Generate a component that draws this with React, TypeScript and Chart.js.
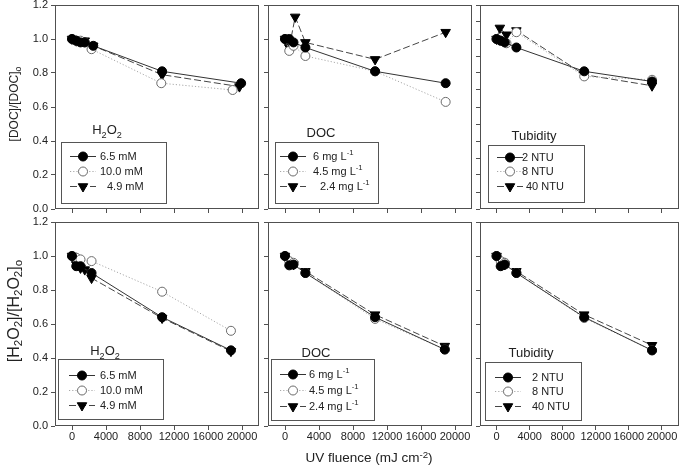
import React, { useEffect, useRef } from 'react';
import { Chart, registerables } from 'chart.js';
Chart.register(...registerables);

const FONT = 'Arial, "Liberation Sans", Helvetica, sans-serif';
const AXIS = '#505050';
const TEXT = '#222222';

// ---------------- Data ----------------
const X_TICKS = [0, 4000, 8000, 12000, 16000, 20000];
const Y_TICKS = [0, 0.2, 0.4, 0.6, 0.8, 1.0, 1.2];
const Y_TICKS_FINE = [0, 0.1, 0.2, 0.3, 0.4, 0.5, 0.6, 0.7, 0.8, 0.9, 1.0, 1.1, 1.2];

const H2O2_LABELS = ['6.5 mM', '10.0 mM', '4.9 mM'];
const DOC_LABELS = ['6 mg L^{-1}', '4.5 mg L^{-1}', '2.4 mg L^{-1}'];
const TURB_LABELS = ['2 NTU', '8 NTU', '40 NTU'];

// Top row: [DOC]/[DOC]o
const DOC_H2O2_65_X = [0, 500, 1000, 1500, 2500, 10600, 19900];
const DOC_H2O2_65_Y = [1.0, 0.99, 0.98, 0.98, 0.96, 0.81, 0.74];
const DOC_H2O2_100_X = [0, 500, 1000, 1500, 2300, 10500, 18900];
const DOC_H2O2_100_Y = [1.0, 0.99, 0.99, 0.98, 0.94, 0.74, 0.70];
const DOC_H2O2_49_X = [0, 500, 1000, 1500, 2500, 10600, 19700];
const DOC_H2O2_49_Y = [1.0, 0.99, 0.99, 0.99, 0.96, 0.79, 0.72];

const DOC_DOC_6_X = [0, 500, 1000, 2400, 10600, 18900];
const DOC_DOC_6_Y = [1.0, 1.0, 0.98, 0.95, 0.81, 0.74];
const DOC_DOC_45_X = [0, 500, 1000, 2400, 10600, 18900];
const DOC_DOC_45_Y = [1.0, 0.93, 0.96, 0.90, 0.81, 0.63];
const DOC_DOC_24_X = [0, 500, 1200, 2400, 10600, 18900];
const DOC_DOC_24_Y = [1.0, 0.95, 1.13, 0.98, 0.88, 1.04];

const DOC_TURB_2_X = [0, 500, 1000, 2400, 10600, 18800];
const DOC_TURB_2_Y = [1.0, 0.99, 0.98, 0.95, 0.81, 0.75];
const DOC_TURB_8_X = [0, 500, 1200, 2400, 10600, 18800];
const DOC_TURB_8_Y = [1.0, 0.99, 0.975, 1.04, 0.78, 0.76];
const DOC_TURB_40_X = [0, 400, 1200, 2400, 10600, 18800];
const DOC_TURB_40_Y = [1.0, 1.065, 1.025, 1.05, 0.79, 0.725];

// Bottom row: [H2O2]/[H2O2]o
const HP_H2O2_65_X = [0, 500, 1000, 2300, 10600, 18700];
const HP_H2O2_65_Y = [1.0, 0.94, 0.94, 0.90, 0.64, 0.445];
const HP_H2O2_100_X = [0, 500, 1000, 2300, 10600, 18700];
const HP_H2O2_100_Y = [1.0, 0.99, 0.98, 0.97, 0.79, 0.56];
const HP_H2O2_49_X = [0, 500, 1000, 1500, 2300, 10600, 18700];
const HP_H2O2_49_Y = [1.0, 0.95, 0.93, 0.92, 0.87, 0.635, 0.44];

const HP_DOC_6_X = [0, 500, 1000, 2400, 10600, 18800];
const HP_DOC_6_Y = [1.0, 0.945, 0.95, 0.90, 0.64, 0.45];
const HP_DOC_45_X = [0, 500, 1000, 2400, 10600, 18800];
const HP_DOC_45_Y = [1.0, 0.97, 0.96, 0.90, 0.63, 0.45];
const HP_DOC_24_X = [0, 500, 1000, 2400, 10600, 18800];
const HP_DOC_24_Y = [1.0, 0.96, 0.95, 0.91, 0.655, 0.47];

const HP_TURB_2_X = [0, 500, 1000, 2400, 10600, 18800];
const HP_TURB_2_Y = [1.0, 0.94, 0.95, 0.90, 0.64, 0.445];
const HP_TURB_8_X = [0, 500, 1000, 2400, 10600, 18800];
const HP_TURB_8_Y = [1.0, 0.97, 0.96, 0.90, 0.635, 0.445];
const HP_TURB_40_X = [0, 500, 1000, 2400, 10600, 18800];
const HP_TURB_40_Y = [1.0, 0.97, 0.95, 0.91, 0.655, 0.475];

// ---------------- Styles / layout ----------------
const STYLES = [
  { line: '#333333', dash: [] as number[], point: 'circle', rot: 0, r: 4.5, fill: '#000000', stroke: '#000000' },
  { line: '#a8a8a8', dash: [1.2, 2], point: 'circle', rot: 0, r: 4.5, fill: '#ffffff', stroke: '#6a6a6a' },
  { line: '#454545', dash: [7, 3], point: 'triangle', rot: 180, r: 5.5, fill: '#000000', stroke: '#000000' },
];

type LegendLayout = {
  box: number[]; title: number[]; markerX: number; textX: number; rows: number[]; indent3: number;
};
type Panel = {
  left: number; top: number; right: number; bottom: number;
  yLabels: boolean; xLabels: boolean; yTicks: number[];
  series: number[][][]; labels: string[]; title: string; legend: LegendLayout;
};

const CANVAS_W = 685;
const CANVAS_H = 532;
const CANVAS_TOP = -30;
const Y_AXIS_W = 45;
const X_AXIS_H = 20;

const PANELS: Panel[] = [
  {
    left: 55, top: 5, right: 259, bottom: 209, yLabels: true, xLabels: false, yTicks: Y_TICKS,
    series: [[DOC_H2O2_65_X, DOC_H2O2_65_Y], [DOC_H2O2_100_X, DOC_H2O2_100_Y], [DOC_H2O2_49_X, DOC_H2O2_49_Y]],
    labels: H2O2_LABELS, title: 'H_{2}O_{2}',
    legend: { box: [6, 137, 111, 198], title: [52, 124], markerX: 28, textX: 45, rows: [151, 166, 181], indent3: 7 },
  },
  {
    left: 268, top: 5, right: 472, bottom: 209, yLabels: false, xLabels: false, yTicks: Y_TICKS,
    series: [[DOC_DOC_6_X, DOC_DOC_6_Y], [DOC_DOC_45_X, DOC_DOC_45_Y], [DOC_DOC_24_X, DOC_DOC_24_Y]],
    labels: DOC_LABELS, title: 'DOC',
    legend: { box: [7, 137, 110, 198], title: [53, 127], markerX: 25, textX: 45, rows: [151, 166, 181], indent3: 7 },
  },
  {
    left: 480, top: 5, right: 684, bottom: 209, yLabels: false, xLabels: false, yTicks: Y_TICKS_FINE,
    series: [[DOC_TURB_2_X, DOC_TURB_2_Y], [DOC_TURB_8_X, DOC_TURB_8_Y], [DOC_TURB_40_X, DOC_TURB_40_Y]],
    labels: TURB_LABELS, title: 'Tubidity',
    legend: { box: [8, 140, 104, 197], title: [54, 130], markerX: 30, textX: 42, rows: [152, 166, 181], indent3: 4 },
  },
  {
    left: 55, top: 222, right: 259, bottom: 426, yLabels: true, xLabels: true, yTicks: Y_TICKS,
    series: [[HP_H2O2_65_X, HP_H2O2_65_Y], [HP_H2O2_100_X, HP_H2O2_100_Y], [HP_H2O2_49_X, HP_H2O2_49_Y]],
    labels: H2O2_LABELS, title: 'H_{2}O_{2}',
    legend: { box: [3, 137, 108, 197], title: [50, 128], markerX: 27, textX: 45, rows: [153, 168, 183], indent3: 0 },
  },
  {
    left: 268, top: 222, right: 472, bottom: 426, yLabels: false, xLabels: true, yTicks: Y_TICKS,
    series: [[HP_DOC_6_X, HP_DOC_6_Y], [HP_DOC_45_X, HP_DOC_45_Y], [HP_DOC_24_X, HP_DOC_24_Y]],
    labels: DOC_LABELS, title: 'DOC',
    legend: { box: [3, 137, 106, 198], title: [48, 130], markerX: 25, textX: 41, rows: [152, 168, 184], indent3: 0 },
  },
  {
    left: 480, top: 222, right: 684, bottom: 426, yLabels: false, xLabels: true, yTicks: Y_TICKS,
    series: [[HP_TURB_2_X, HP_TURB_2_Y], [HP_TURB_8_X, HP_TURB_8_Y], [HP_TURB_40_X, HP_TURB_40_Y]],
    labels: TURB_LABELS, title: 'Tubidity',
    legend: { box: [5, 140, 101, 198], title: [51, 130], markerX: 28, textX: 52, rows: [155, 169, 184], indent3: 0 },
  },
];

// ---------------- Rich text helpers ----------------
type Seg = { t: string; k: 'n' | 'sub' | 'sup' };
function parseRich(s: string): Seg[] {
  const segs: Seg[] = [];
  const re = /([_^])\{([^}]*)\}/g;
  let last = 0;
  let m: RegExpExecArray | null;
  while ((m = re.exec(s))) {
    if (m.index > last) segs.push({ t: s.slice(last, m.index), k: 'n' });
    segs.push({ t: m[2], k: m[1] === '_' ? 'sub' : 'sup' });
    last = re.lastIndex;
  }
  if (last < s.length) segs.push({ t: s.slice(last), k: 'n' });
  return segs;
}
function drawRich(ctx: CanvasRenderingContext2D, s: string, x: number, yMid: number, size: number, align: 'left' | 'center') {
  const segs = parseRich(s);
  const small = size * 0.7;
  let w = 0;
  for (const g of segs) {
    ctx.font = `${g.k === 'n' ? size : small}px ${FONT}`;
    w += ctx.measureText(g.t).width;
  }
  let cx = align === 'center' ? x - w / 2 : x;
  const base = yMid + size * 0.36;
  ctx.textAlign = 'left';
  ctx.textBaseline = 'alphabetic';
  ctx.fillStyle = TEXT;
  for (const g of segs) {
    ctx.font = `${g.k === 'n' ? size : small}px ${FONT}`;
    const dy = g.k === 'sub' ? size * 0.3 : g.k === 'sup' ? -size * 0.42 : 0;
    ctx.fillText(g.t, cx, base + dy);
    cx += ctx.measureText(g.t).width;
  }
}

function drawMarker(ctx: CanvasRenderingContext2D, st: typeof STYLES[number], x: number, y: number) {
  ctx.save();
  ctx.setLineDash([]);
  ctx.fillStyle = st.fill;
  ctx.strokeStyle = st.stroke;
  ctx.lineWidth = 1;
  ctx.beginPath();
  if (st.point === 'circle') {
    ctx.arc(x, y, st.r, 0, Math.PI * 2);
  } else {
    const r = st.r;
    for (let i = 0; i < 3; i++) {
      const a = Math.PI + (i * 2 * Math.PI) / 3;
      const px = x + Math.sin(a) * r;
      const py = y - Math.cos(a) * r;
      if (i === 0) ctx.moveTo(px, py); else ctx.lineTo(px, py);
    }
    ctx.closePath();
  }
  ctx.fill();
  ctx.stroke();
  ctx.restore();
}

// ---------------- Chart component ----------------
function PanelChart({ panel }: { panel: Panel }) {
  const ref = useRef<HTMLCanvasElement | null>(null);
  useEffect(() => {
    if (!ref.current) return;
    const datasets = panel.series.map((s, i) => {
      const st = STYLES[i];
      return {
        label: panel.labels[i],
        data: s[0].map((x, j) => ({ x, y: s[1][j] })),
        showLine: true,
        borderColor: st.line,
        borderWidth: 1,
        borderDash: st.dash,
        pointStyle: st.point,
        pointRotation: st.rot,
        pointRadius: st.r,
        pointHoverRadius: st.r,
        pointBackgroundColor: st.fill,
        pointBorderColor: st.stroke,
        pointBorderWidth: 1,
        clip: 8,
      };
    });
    const frameAndLegend = {
      id: 'frameAndLegend',
      afterDraw(chart: any) {
        const ctx: CanvasRenderingContext2D = chart.ctx;
        const a = chart.chartArea;
        ctx.save();
        ctx.strokeStyle = AXIS;
        ctx.lineWidth = 1;
        ctx.setLineDash([]);
        ctx.strokeRect(Math.round(a.left) + 0.5, Math.round(a.top) + 0.5,
          Math.round(a.right) - Math.round(a.left) - 1, Math.round(a.bottom) - Math.round(a.top) - 1);
        const L = panel.legend;
        const ox = a.left;
        const oy = a.top;
        ctx.strokeStyle = '#555555';
        ctx.strokeRect(Math.round(ox + L.box[0]) + 0.5, Math.round(oy + L.box[1]) + 0.5,
          L.box[2] - L.box[0], L.box[3] - L.box[1]);
        drawRich(ctx, panel.title, ox + L.title[0], oy + L.title[1], 13, 'center');
        for (let i = 0; i < 3; i++) {
          const st = STYLES[i];
          const y = oy + L.rows[i];
          const mx = ox + L.markerX;
          ctx.save();
          ctx.strokeStyle = st.line;
          ctx.lineWidth = 1;
          ctx.setLineDash(st.dash);
          ctx.beginPath();
          ctx.moveTo(mx - 13, Math.round(y) + 0.5);
          ctx.lineTo(mx + 13, Math.round(y) + 0.5);
          ctx.stroke();
          ctx.restore();
          drawMarker(ctx, st, mx, Math.round(y) + 0.5);
          drawRich(ctx, panel.labels[i], ox + L.textX + (i === 2 ? L.indent3 : 0), y, 11, 'left');
        }
        ctx.restore();
      },
    };
    const tickFont = { family: FONT, size: 11 };
    const chart = new Chart(ref.current, {
      type: 'scatter',
      data: { datasets: datasets as any },
      plugins: [frameAndLegend],
      options: {
        responsive: false,
        animation: false,
        events: [],
        layout: {
          padding: {
            left: panel.left - Y_AXIS_W,
            right: CANVAS_W - panel.right,
            top: panel.top - CANVAS_TOP,
            bottom: CANVAS_H + CANVAS_TOP - panel.bottom - X_AXIS_H,
          },
        },
        plugins: { legend: { display: false }, tooltip: { enabled: false } },
        scales: {
          x: {
            type: 'linear',
            min: -2000,
            max: 22000,
            afterBuildTicks: (s: any) => { s.ticks = X_TICKS.map((v) => ({ value: v })); },
            afterFit: (s: any) => { s.height = X_AXIS_H; },
            border: { display: false },
            grid: { drawOnChartArea: false, drawTicks: true, tickLength: 4, color: AXIS, lineWidth: 1 },
            ticks: {
              display: panel.xLabels, font: tickFont, color: TEXT, padding: 0,
              maxRotation: 0, autoSkip: false, callback: (v: any) => String(v),
            },
          },
          y: {
            type: 'linear',
            min: 0,
            max: 1.2,
            afterBuildTicks: (s: any) => { s.ticks = panel.yTicks.map((v) => ({ value: v })); },
            afterFit: (s: any) => { s.width = Y_AXIS_W; },
            border: { display: false },
            grid: { drawOnChartArea: false, drawTicks: true, tickLength: 4, color: AXIS, lineWidth: 1 },
            ticks: {
              display: panel.yLabels, font: tickFont, color: TEXT, padding: 3,
              autoSkip: false, callback: (v: any) => Number(v).toFixed(1),
            },
          },
        },
      } as any,
    });
    return () => chart.destroy();
  }, [panel]);
  return (
    <canvas
      ref={ref}
      width={CANVAS_W}
      height={CANVAS_H}
      style={{ position: 'absolute', left: 0, top: CANVAS_TOP, width: CANVAS_W, height: CANVAS_H }}
    />
  );
}

const subStyle: React.CSSProperties = { fontSize: '0.72em', verticalAlign: '-0.3em', lineHeight: 0 };
const supStyle: React.CSSProperties = { fontSize: '0.72em', verticalAlign: '0.45em', lineHeight: 0 };

export default function App() {
  const yTitle = (top: number, size: number): React.CSSProperties => ({
    position: 'absolute', left: 14, top, transform: 'translate(-50%, -50%) rotate(-90deg)',
    whiteSpace: 'nowrap', fontSize: size, lineHeight: `${size + 2}px`, color: TEXT, fontFamily: FONT,
  });
  return (
    <div style={{ position: 'fixed', left: 0, top: 0, width: 685, height: 472, background: '#fff', overflow: 'hidden', fontFamily: FONT }}>
      {PANELS.map((p, i) => <PanelChart key={i} panel={p} />)}
      <div style={yTitle(104, 12)}>[DOC]/[DOC]<span style={subStyle}>o</span></div>
      <div style={yTitle(311, 16)}>
        [H<span style={subStyle}>2</span>O<span style={subStyle}>2</span>]/[H<span style={subStyle}>2</span>O<span style={subStyle}>2</span>]<span style={subStyle}>o</span>
      </div>
      <div style={{ position: 'absolute', left: 369, top: 458, transform: 'translate(-50%, -50%)', whiteSpace: 'nowrap', fontSize: 13.5, lineHeight: '16px', color: TEXT, fontFamily: FONT }}>
        UV fluence (mJ cm<span style={supStyle}>-2</span>)
      </div>
    </div>
  );
}
